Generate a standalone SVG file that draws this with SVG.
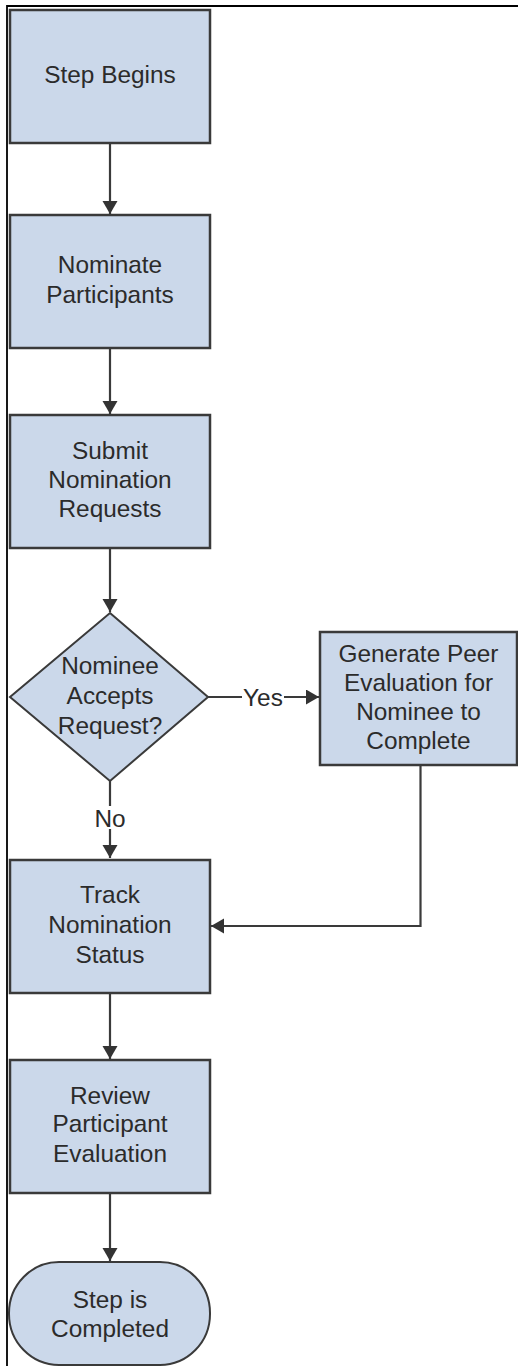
<svg xmlns="http://www.w3.org/2000/svg" width="518" height="1366" viewBox="0 0 518 1366">
<style>
.node{fill:#cbd8ea;stroke:#3a3a3a;stroke-width:2.5}
.t{font-family:"Liberation Sans",Arial,sans-serif;font-size:24.4px;fill:#2b2b2b;text-anchor:middle}
.c{fill:none;stroke:#3a3a3a;stroke-width:2.2}
</style>
<defs>
<marker id="ah" markerUnits="userSpaceOnUse" markerWidth="14" markerHeight="16" refX="13" refY="7.5" orient="auto">
<path d="M0,0 L13,7.5 L0,15 z" fill="#333"/>
</marker>
</defs>
<rect width="518" height="1366" fill="#fff"/>
<g id="frame"><path d="M7,1366 V6 H518" fill="none" stroke="#000" stroke-width="1.8"/></g>
<g id="connectors">
<path class="c" d="M110,143 V214" marker-end="url(#ah)"/>
<path class="c" d="M110,348 V414" marker-end="url(#ah)"/>
<path class="c" d="M110,548 V612" marker-end="url(#ah)"/>
<path class="c" d="M208,697 H242"/>
<path class="c" d="M284,697 H319" marker-end="url(#ah)"/>
<text class="t" x="263" y="705.5">Yes</text>
<path class="c" d="M110,781 V806"/>
<text class="t" x="110" y="827">No</text>
<path class="c" d="M110,829 V858" marker-end="url(#ah)"/>
<path class="c" d="M420.5,765 V926 H211" marker-end="url(#ah)"/>
<path class="c" d="M110,993 V1059" marker-end="url(#ah)"/>
<path class="c" d="M110,1193 V1261" marker-end="url(#ah)"/>
</g>
<g id="n1"><rect class="node" x="10" y="10" width="200" height="133"/><text class="t" x="110" y="83">Step Begins</text></g>
<g id="n2"><rect class="node" x="10" y="215" width="200" height="133"/><text class="t" x="110" y="273">Nominate</text><text class="t" x="110" y="302.5">Participants</text></g>
<g id="n3"><rect class="node" x="10" y="415" width="200" height="133"/><text class="t" x="110" y="458.5">Submit</text><text class="t" x="110" y="488">Nomination</text><text class="t" x="110" y="517">Requests</text></g>
<g id="n4"><path class="node" d="M110,613 L208,697 L110,781 L10,697 z" style="stroke-width:2"/><text class="t" x="110" y="674">Nominee</text><text class="t" x="110" y="704">Accepts</text><text class="t" x="110" y="734">Request?</text></g>
<g id="n5"><rect class="node" x="320" y="632" width="197" height="133"/><text class="t" x="418.5" y="662">Generate Peer</text><text class="t" x="418.5" y="690.5">Evaluation for</text><text class="t" x="418.5" y="720">Nominee to</text><text class="t" x="418.5" y="748.5">Complete</text></g>
<g id="n6"><rect class="node" x="10" y="860" width="200" height="133"/><text class="t" x="110" y="903">Track</text><text class="t" x="110" y="933">Nomination</text><text class="t" x="110" y="962.5">Status</text></g>
<g id="n7"><rect class="node" x="10" y="1060" width="200" height="133"/><text class="t" x="110" y="1103.5">Review</text><text class="t" x="110" y="1132">Participant</text><text class="t" x="110" y="1162">Evaluation</text></g>
<g id="n8"><rect class="node" x="9" y="1262" width="201" height="103" rx="50" ry="51" style="stroke-width:2"/><text class="t" x="110" y="1307.5">Step is</text><text class="t" x="110" y="1337">Completed</text></g>
</svg>
